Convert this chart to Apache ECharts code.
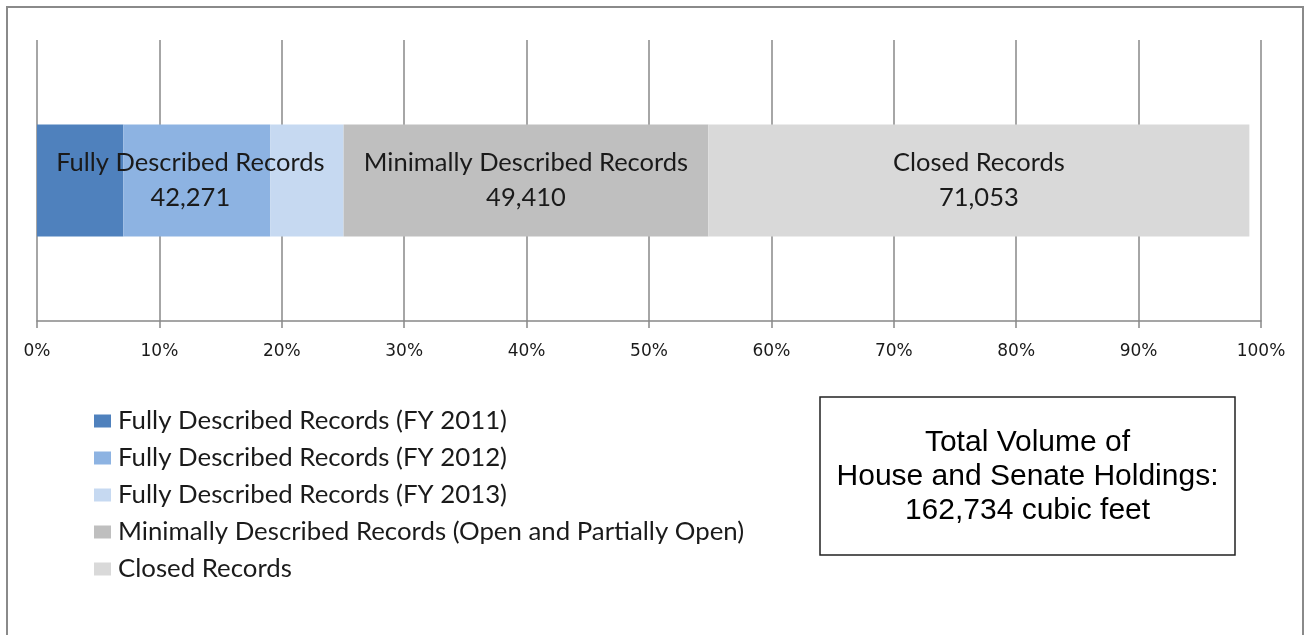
<!DOCTYPE html>
<html>
<head>
<meta charset="utf-8">
<script src="https://cdn.jsdelivr.net/npm/echarts@6/dist/echarts.min.js"></script>
<style>
  html, body { margin: 0; padding: 0; background: #fff; }
  #main { width: 1309px; height: 635px; }
</style>
</head>
<body>
<div id="main"></div>
<script>
// share of total holdings, in percent
var seriesNames = [
    'Fully Described Records (FY 2011)',
    'Fully Described Records (FY 2012)',
    'Fully Described Records (FY 2013)',
    'Minimally Described Records (Open and Partially Open)',
    'Closed Records'
];
var seriesValues = [7.05, 12.0, 6.0, 29.8, 44.2];
var seriesColors = ['#4f81bd', '#8db3e2', '#c6d9f1', '#bfbfbf', '#d9d9d9'];

// group labels drawn inside the bar
var groupNames = ['Fully Described Records', 'Minimally Described Records', 'Closed Records'];
var groupVolumes = [42271, 49410, 71053];
var totalVolume = 162734;

var tickLabels = ['0%', '10%', '20%', '30%', '40%', '50%', '60%', '70%', '80%', '90%', '100%'];

var gridLeft = 37, gridRight = 48;
var plotWidth = 1309 - gridLeft - gridRight;

function fmt(n) {
    return n.toLocaleString('en-US');
}

var myChart = echarts.init(document.getElementById('main'));

// the "Fully Described" label sits centred over the three FY segments
var fullyMid = (seriesValues[0] + seriesValues[1] + seriesValues[2]) / 2;
var fy12Mid = seriesValues[0] + seriesValues[1] / 2;
var fullyOffset = (fullyMid - fy12Mid) * plotWidth / 100;

var labelStyle = {
    show: true,
    position: 'inside',
    color: '#1a1a1a',
    fontFamily: 'Lato',
    fontSize: 25.5,
    lineHeight: 35
};

var series = seriesNames.map(function (name, i) {
    var label = { show: false };
    if (i === 1) {
        label = Object.assign({}, labelStyle, {
            offset: [fullyOffset, 0],
            formatter: groupNames[0] + '\n' + fmt(groupVolumes[0])
        });
    } else if (i === 3) {
        label = Object.assign({}, labelStyle, {
            formatter: groupNames[1] + '\n' + fmt(groupVolumes[1])
        });
    } else if (i === 4) {
        label = Object.assign({}, labelStyle, {
            formatter: groupNames[2] + '\n' + fmt(groupVolumes[2])
        });
    }
    return {
        name: name,
        type: 'bar',
        stack: 'total',
        barWidth: 112,
        itemStyle: { color: seriesColors[i] },
        label: label,
        emphasis: { disabled: true },
        data: [seriesValues[i]]
    };
});

var option = {
    animation: false,
    backgroundColor: '#fff',
    grid: {
        left: gridLeft,
        right: gridRight,
        top: 40,
        bottom: 314
    },
    legend: {
        orient: 'vertical',
        left: 94,
        top: 408,
        padding: 0,
        itemWidth: 17,
        itemHeight: 13,
        itemGap: 11,
        icon: 'rect',
        data: seriesNames,
        textStyle: {
            fontFamily: 'Lato',
            fontSize: 25.8,
            lineHeight: 26,
            color: '#1a1a1a',
            padding: [0, 0, 0, 2]
        }
    },
    xAxis: {
        type: 'value',
        min: 0,
        max: 100,
        interval: 10,
        axisLine: { show: true, lineStyle: { color: '#888', width: 1.5 } },
        axisTick: { show: true, length: 7, lineStyle: { color: '#888', width: 1.5 } },
        splitLine: { show: true, lineStyle: { color: '#888', width: 1.5 } },
        axisLabel: {
            margin: 22,
            fontFamily: 'DejaVu Sans',
            fontSize: 17,
            color: '#1a1a1a',
            formatter: function (v) { return tickLabels[Math.round(v / 10)]; }
        }
    },
    yAxis: {
        type: 'category',
        data: ['Holdings'],
        axisLine: { show: false },
        axisTick: { show: false },
        axisLabel: { show: false }
    },
    graphic: [
        {
            type: 'rect',
            shape: { x: 7, y: 7, width: 1296, height: 700 },
            style: { fill: 'none', stroke: '#8a8a8a', lineWidth: 2 },
            silent: true
        },
        {
            type: 'rect',
            shape: { x: 820, y: 397, width: 415, height: 158 },
            style: { fill: '#fff', stroke: '#222', lineWidth: 1.5 },
            silent: true
        },
        {
            type: 'text',
            x: 1027.5,
            y: 477,
            style: {
                text: 'Total Volume of\nHouse and Senate Holdings:\n' + fmt(totalVolume) + ' cubic feet',
                align: 'center',
                verticalAlign: 'middle',
                fontFamily: 'Liberation Sans',
                fontSize: 30,
                lineHeight: 34,
                fill: '#000'
            },
            silent: true
        }
    ],
    series: series
};

myChart.setOption(option);
</script>
</body>
</html>
